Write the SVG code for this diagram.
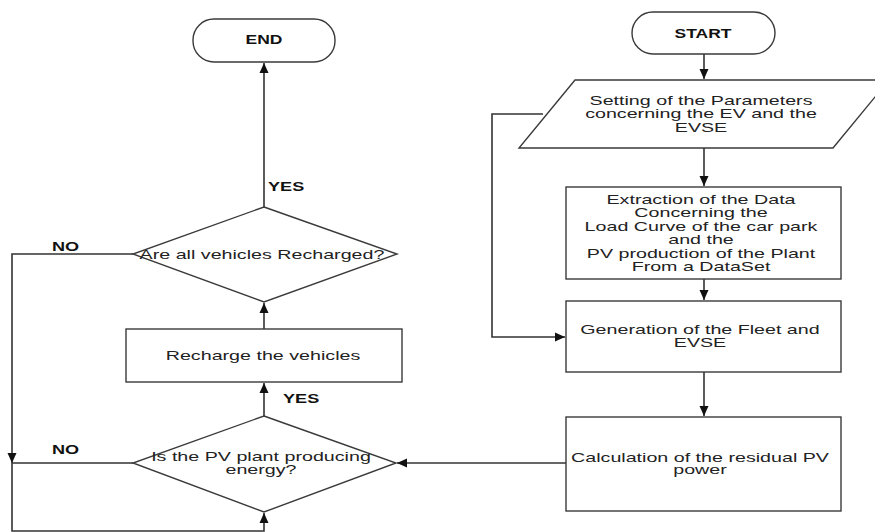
<svg xmlns="http://www.w3.org/2000/svg" width="875" height="532" viewBox="0 0 875 532">
<style>
.shape{fill:#fff;stroke:#3a3a3a;stroke-width:1.4}
.conn{fill:none;stroke:#333;stroke-width:1.6}
.t{font-family:"Liberation Sans",Arial,sans-serif;font-size:12px;fill:#222;text-anchor:middle}
.b{font-family:"Liberation Sans",Arial,sans-serif;font-size:12.5px;font-weight:bold;fill:#111}
</style>
<defs>
<marker id="ah" markerUnits="userSpaceOnUse" markerWidth="10" markerHeight="10" viewBox="0 0 10 10" refX="10" refY="5" orient="auto">
<path d="M0,0.5 L10,5 L0,9.5 Z" fill="#111"/>
</marker>
</defs>
<rect width="875" height="532" fill="#fff"/>
<g id="connectors">
<path class="conn" d="M704,54 V79" marker-end="url(#ah)"/>
<path class="conn" d="M704,148 V186" marker-end="url(#ah)"/>
<path class="conn" d="M704,279 V300" marker-end="url(#ah)"/>
<path class="conn" d="M704,372 V416" marker-end="url(#ah)"/>
<path class="conn" d="M543,114 H492 V337 H565" marker-end="url(#ah)"/>
<path class="conn" d="M566,463 H397" marker-end="url(#ah)"/>
<path class="conn" d="M264,416 V383" marker-end="url(#ah)"/>
<path class="conn" d="M264,329 V303" marker-end="url(#ah)"/>
<path class="conn" d="M264,207 V63" marker-end="url(#ah)"/>
<path class="conn" d="M133,254 H12 V463" marker-end="url(#ah)"/>
<path class="conn" d="M133,463 H12 V531 H264 V513" marker-end="url(#ah)"/>
<text class="b" transform="translate(268,191) scale(1.45,1)">YES</text>
<text class="b" transform="translate(52,251) scale(1.45,1)">NO</text>
<text class="b" transform="translate(283,403) scale(1.45,1)">YES</text>
<text class="b" transform="translate(52,454) scale(1.45,1)">NO</text>
</g>
<g id="start">
<rect class="shape" x="632" y="12" width="143" height="42" rx="21"/>
<text class="b" text-anchor="middle" transform="translate(703,38) scale(1.4,1)">START</text>
</g>
<g id="params">
<polygon class="shape" points="575,80 889,80 833,148 519,148"/>
<text class="t" transform="translate(701,105) scale(1.64,1)"><tspan x="0" y="0">Setting of the Parameters</tspan><tspan x="0" y="13.5">concerning the EV and the</tspan><tspan x="0" y="27">EVSE</tspan></text>
</g>
<g id="extraction">
<rect class="shape" x="566" y="187" width="275" height="92"/>
<text class="t" transform="translate(701,204) scale(1.64,1)"><tspan x="0" y="0">Extraction of the Data</tspan><tspan x="0" y="13.5">Concerning the</tspan><tspan x="0" y="27">Load Curve of the car park</tspan><tspan x="0" y="40.5">and the</tspan><tspan x="0" y="54">PV production of the Plant</tspan><tspan x="0" y="67">From a DataSet</tspan></text>
</g>
<g id="generation">
<rect class="shape" x="566" y="301" width="275" height="71"/>
<text class="t" transform="translate(700,334) scale(1.64,1)"><tspan x="0" y="0">Generation of the Fleet and</tspan><tspan x="0" y="13.5">EVSE</tspan></text>
</g>
<g id="calculation">
<rect class="shape" x="566" y="417" width="275" height="94"/>
<text class="t" transform="translate(700,461.5) scale(1.64,1)"><tspan x="0" y="0">Calculation of the residual PV</tspan><tspan x="0" y="13">power</tspan></text>
</g>
<g id="pv-decision">
<polygon class="shape" points="264,416 396,463 264,512 133,463"/>
<text class="t" transform="translate(261,461) scale(1.64,1)"><tspan x="0" y="0">Is the PV plant producing</tspan><tspan x="0" y="13.5">energy?</tspan></text>
</g>
<g id="recharge">
<rect class="shape" x="126" y="329" width="276" height="53"/>
<text class="t" transform="translate(263,360) scale(1.64,1)">Recharge the vehicles</text>
</g>
<g id="all-recharged">
<polygon class="shape" points="264,207 397,254 264,302 133,254"/>
<text class="t" transform="translate(262,259) scale(1.64,1)">Are all vehicles Recharged?</text>
</g>
<g id="end">
<rect class="shape" x="193" y="19" width="142" height="43" rx="21"/>
<text class="b" text-anchor="middle" transform="translate(264,44) scale(1.4,1)">END</text>
</g>
</svg>
